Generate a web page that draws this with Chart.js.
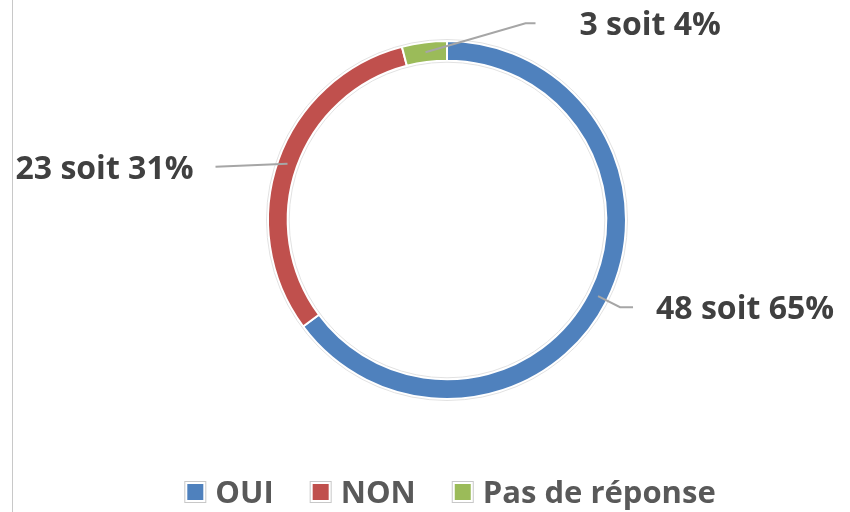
<!DOCTYPE html>
<html lang="fr">
<head>
    <meta charset="UTF-8">
    <title>Réponses</title>
    <script src="https://cdn.jsdelivr.net/npm/chart.js"></script>
    <style>
        body {
            margin: 0;
            background-color: #ffffff;
        }
    </style>
</head>
<body>
    <canvas id="myChart" width="850" height="512"></canvas>

    <script>
        // Données
        const categories = ['OUI', 'NON', 'Pas de réponse'];
        const counts = [48, 23, 3];
        const colors = ['#4F81BD', '#C0504D', '#9BBB59'];

        const total = counts.reduce((a, b) => a + b, 0);
        const labelTexts = counts.map(v => `${v} soit ${Math.round(v / total * 100)}%`);

        // Position des étiquettes par rapport au milieu de chaque secteur
        const leaders = [
            { dx: 22, dy: 11, run: 13, gap: 23, side: 'right' },
            { dx: -72, dy: 3, run: 0, gap: 22, side: 'left' },
            { dx: 100, dy: -29, run: 10, gap: 44, side: 'right' }
        ];

        const decorPlugin = {
            id: 'decor',
            beforeDraw(chart) {
                const ctx = chart.ctx;
                ctx.save();
                ctx.strokeStyle = '#c8c8c8';
                ctx.lineWidth = 1;
                ctx.beginPath();
                ctx.moveTo(12.5, 0);
                ctx.lineTo(12.5, chart.height);
                ctx.stroke();
                ctx.restore();
            },
            afterDatasetsDraw(chart) {
                const ctx = chart.ctx;
                const meta = chart.getDatasetMeta(0);
                ctx.save();

                // contour léger autour de l'anneau
                const first = meta.data[0];
                ctx.strokeStyle = '#e2e2e2';
                ctx.lineWidth = 1;
                ctx.beginPath();
                ctx.arc(first.x, first.y, first.outerRadius + 1.5, 0, Math.PI * 2);
                ctx.stroke();
                ctx.beginPath();
                ctx.arc(first.x, first.y, first.innerRadius - 1.5, 0, Math.PI * 2);
                ctx.stroke();

                // lignes de rappel et étiquettes
                ctx.font = 'bold 32px "Open Sans"';
                ctx.textBaseline = 'alphabetic';
                meta.data.forEach((arc, i) => {
                    const p = arc.getProps(['x', 'y', 'startAngle', 'endAngle', 'innerRadius', 'outerRadius'], true);
                    const mid = (p.startAngle + p.endAngle) / 2;
                    const r = (p.innerRadius + p.outerRadius) / 2;
                    const ax = p.x + Math.cos(mid) * r;
                    const ay = p.y + Math.sin(mid) * r;
                    const L = leaders[i];
                    const ex = ax + L.dx;
                    const ey = ay + L.dy;
                    const sign = L.side === 'right' ? 1 : -1;
                    const fx = ex + sign * L.run;

                    ctx.strokeStyle = '#a6a6a6';
                    ctx.lineWidth = 2;
                    ctx.beginPath();
                    ctx.moveTo(ax, ay);
                    ctx.lineTo(ex, ey);
                    ctx.lineTo(fx, ey);
                    ctx.stroke();

                    ctx.fillStyle = '#404040';
                    ctx.textAlign = L.side === 'right' ? 'left' : 'right';
                    ctx.fillText(labelTexts[i], fx + sign * L.gap, ey + 12);
                });

                // légende
                ctx.font = 'bold 31px "Open Sans"';
                ctx.textAlign = 'left';
                const box = 22, boxGap = 9, itemGap = 36;
                const widths = categories.map(c => box + boxGap + ctx.measureText(c).width);
                const totalW = widths.reduce((a, b) => a + b, 0) + itemGap * (categories.length - 1);
                let x = 450 - totalW / 2;
                const yc = 492;
                categories.forEach((c, i) => {
                    ctx.fillStyle = '#ffffff';
                    ctx.fillRect(x, yc - box / 2, box, box);
                    ctx.strokeStyle = '#c8c8c8';
                    ctx.lineWidth = 1;
                    ctx.strokeRect(x + 0.5, yc - box / 2 + 0.5, box - 1, box - 1);
                    ctx.fillStyle = colors[i];
                    ctx.fillRect(x + 3, yc - box / 2 + 3, box - 6, box - 6);
                    ctx.fillStyle = '#595959';
                    ctx.fillText(c, x + box + boxGap, yc + 11);
                    x += widths[i] + itemGap;
                });

                ctx.restore();
            }
        };

        const ctx = document.getElementById('myChart').getContext('2d');
        const myChart = new Chart(ctx, {
            type: 'doughnut',
            data: {
                labels: categories,
                datasets: [{
                    data: counts,
                    backgroundColor: colors,
                    borderColor: '#ffffff',
                    borderWidth: 2
                }]
            },
            options: {
                responsive: false,
                animation: false,
                cutout: '89%',
                layout: {
                    padding: { left: 267, right: 223, top: 40, bottom: 112 }
                },
                plugins: {
                    legend: { display: false },
                    tooltip: { enabled: false }
                }
            },
            plugins: [decorPlugin]
        });
    </script>
</body>
</html>
